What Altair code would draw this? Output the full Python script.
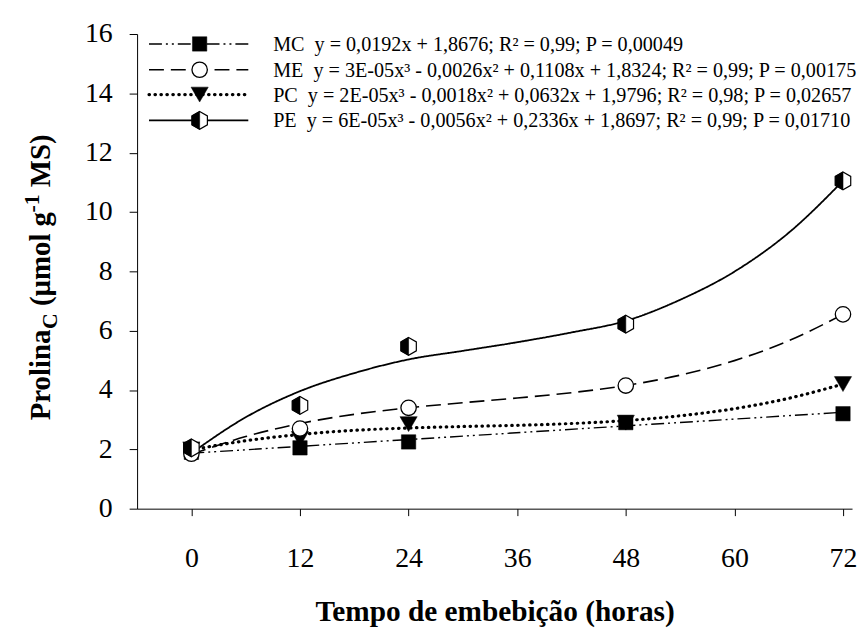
import altair as alt
import pandas as pd

# ---------------- data ----------------
hours = [0, 12, 24, 48, 72]
mc_obs = [1.90, 2.05, 2.25, 2.90, 3.20]
me_obs = [1.85, 2.70, 3.40, 4.15, 6.55]
pc_obs = [2.00, 2.35, 2.85, 2.90, 4.20]
pe_obs = [2.05, 3.48, 5.47, 6.22, 11.05]

curve_x = [0, 6, 12, 18, 24, 30, 36, 42, 48, 54, 60, 66, 72]
me_fit = [1.83, 2.43, 2.87, 3.18, 3.40, 3.57, 3.73, 3.91, 4.15, 4.50, 4.99, 5.66, 6.55]
pc_fit = [1.98, 2.29, 2.50, 2.64, 2.72, 2.77, 2.81, 2.87, 2.97, 3.13, 3.37, 3.72, 4.20]
pe_fit = [1.87, 3.08, 3.96, 4.57, 5.03, 5.32, 5.61, 5.94, 6.33, 7.04, 7.99, 9.30, 11.05]
mc_fit_x = [0, 72]
mc_fit = [1.87, 3.25]

series = ["MC", "ME", "PC", "PE"]
NB = "\u00a0\u00a0"
legend_labels = [
    "MC" + NB + "y = 0,0192x + 1,8676; R² = 0,99; P = 0,00049",
    "ME" + NB + "y = 3E-05x³ - 0,0026x² + 0,1108x + 1,8324; R² = 0,99; P = 0,00175",
    "PC" + NB + "y = 2E-05x³ - 0,0018x² + 0,0632x + 1,9796; R² = 0,98; P = 0,02657",
    "PE" + NB + "y = 6E-05x³ - 0,0056x² + 0,2336x + 1,8697; R² = 0,99; P = 0,01710",
]
x_ticks = [0, 12, 24, 36, 48, 60, 72]
y_ticks = [0, 2, 4, 6, 8, 10, 12, 14, 16]
x_title = "Tempo de embebição (horas)"
y_title_parts = ["Prolina", "C", "(µmol g", "-1", "MS)"]

# ---------------- styles ----------------
FONT = "Liberation Serif"
HEX = "M0,-1L0.866,-0.5L0.866,0.5L0,1L-0.866,0.5L-0.866,-0.5Z"
HEX_LEFT = "M0,-1L-0.866,-0.5L-0.866,0.5L0,1Z"

styles = {
    "MC": dict(dash=[13, 4, 2, 4, 2, 4], width=1.4, cap="butt"),
    "ME": dict(dash=[15, 7], width=1.6, cap="butt"),
    "PC": dict(dash=[0.5, 5.5], width=3.2, cap="round"),
    "PE": dict(dash=[1, 0], width=1.8, cap="butt"),
}

xscale = alt.Scale(domain=[-6, 73], nice=False, zero=False)
yscale = alt.Scale(domain=[0, 16], nice=False)

xaxis = alt.Axis(values=x_ticks, title=x_title, titleFont=FONT, titleFontSize=29.5,
                 titleFontWeight="bold", titleColor="black", titleY=113,
                 titleBaseline="alphabetic",
                 labelFont=FONT, labelFontSize=28, labelColor="black", labelPadding=29,
                 tickSize=7, tickColor="black", tickWidth=1, domainColor="black",
                 domainWidth=1, grid=False, labelFlush=False, labelOverlap=False)
yaxis = alt.Axis(values=y_ticks, title=None, labelFont=FONT, labelFontSize=28,
                 labelColor="black", labelPadding=17, tickSize=8, tickColor="black",
                 tickWidth=1, domainColor="black", domainWidth=1, grid=False,
                 labelOverlap=False)

X = alt.X("x:Q", scale=xscale, axis=xaxis)
Y = alt.Y("y:Q", scale=yscale, axis=yaxis)


def curve(xs, ys, s):
    st = styles[s]
    return alt.Chart(pd.DataFrame({"x": xs, "y": ys})).mark_line(
        color="black", strokeWidth=st["width"], strokeDash=st["dash"],
        strokeCap=st["cap"], interpolate="monotone").encode(x=X, y=Y)


def pts(ys, **mk):
    return alt.Chart(pd.DataFrame({"x": hours, "y": ys})).mark_point(
        color="black", opacity=1, **mk).encode(x=X, y=Y)


one = pd.DataFrame({"a": [0]})
layers = [
    curve(mc_fit_x, mc_fit, "MC"),
    curve(curve_x, me_fit, "ME"),
    curve(curve_x, pc_fit, "PC"),
    curve(curve_x, pe_fit, "PE"),
]

marker_defs = {
    "MC": [dict(shape="square", size=210, filled=True, fill="black", stroke="black", strokeWidth=0.5)],
    "PC": [dict(shape="triangle-down", size=300, filled=True, fill="black", stroke="black", strokeWidth=0.5)],
    "ME": [dict(shape="circle", size=240, filled=True, fill="white", stroke="black", strokeWidth=1.3)],
    "PE": [dict(shape=HEX, size=324, filled=True, fill="white", stroke="black", strokeWidth=1.2),
           dict(shape=HEX_LEFT, size=324, filled=True, fill="black", stroke="black", strokeWidth=0.6)],
}
obs = {"MC": mc_obs, "ME": me_obs, "PC": pc_obs, "PE": pe_obs}
for s in ["MC", "PC", "ME", "PE"]:
    for mk in marker_defs[s]:
        layers.append(pts(obs[s], **mk))

# ---------------- legend (drawn by hand) ----------------
row_y = [10, 36, 61, 87]
for i, s in enumerate(series):
    st = styles[s]
    layers.append(alt.Chart(one).mark_rule(
        color="black", strokeWidth=st["width"], strokeDash=st["dash"], strokeCap=st["cap"]
    ).encode(x=alt.value(12), x2=alt.value(112), y=alt.value(row_y[i])))
    for mk in marker_defs[s]:
        layers.append(alt.Chart(one).mark_point(color="black", opacity=1, **mk).encode(
            x=alt.value(63), y=alt.value(row_y[i])))
    layers.append(alt.Chart(pd.DataFrame({"t": [legend_labels[i]]})).mark_text(
        font=FONT, fontSize=20.3, color="black", align="left", baseline="middle"
    ).encode(x=alt.value(137), y=alt.value(row_y[i] + 1), text="t:N"))

# ---------------- y title with sub/superscript ----------------
big, small = 29, 22
part_size = [big, small, big, small, big]
part_shift = [0, 7, 0, -11, 0]
part_gap = [0, 0, 0.25 * big, 0, 0.25 * big]
part_em = [3.167, 0.722, 3.25, 0.833, 1.833]
pos = 389
for txt, fs, sh, gap, em in zip(y_title_parts, part_size, part_shift, part_gap, part_em):
    pos -= gap
    layers.append(alt.Chart(pd.DataFrame({"t": [txt]})).mark_text(
        font=FONT, fontSize=fs, fontWeight="bold", color="black", angle=270,
        align="left", baseline="alphabetic"
    ).encode(x=alt.value(-88 + sh), y=alt.value(pos), text="t:N"))
    pos -= em * fs

chart = alt.layer(*layers).properties(
    width=720, height=478,
    padding={"left": 130, "top": 24, "right": 6, "bottom": 121},
    autosize=alt.AutoSizeParams(type="none"),
    background="white",
).configure_view(stroke=None)

chart.save("out.html", embed_options={"renderer": "svg", "actions": False})
